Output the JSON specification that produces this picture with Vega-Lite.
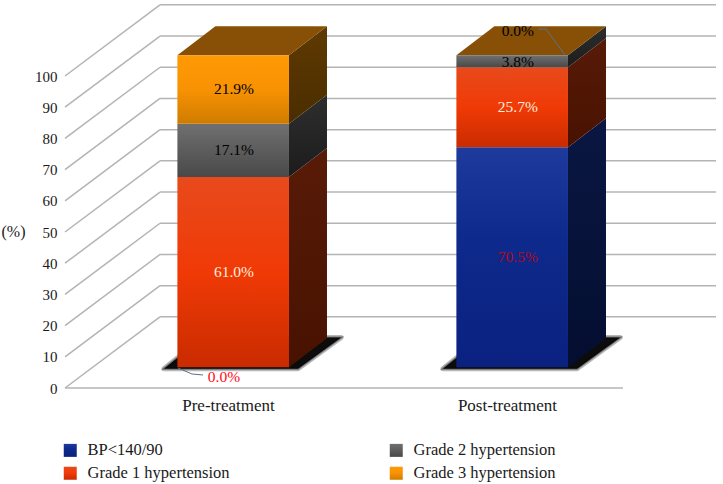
{
"$schema":"https://vega.github.io/schema/vega-lite/v6.json",
"width":651,"height":388,
"autosize":{"type":"none"},
"padding":{"left":65,"top":0,"right":7,"bottom":96},
"background":"white",
"config":{"view":{"stroke":null},"font":"Liberation Serif"},
"data":{"values":[
{"treatment":"Pre-treatment","series":"BP<140/90","value":0.0},
{"treatment":"Pre-treatment","series":"Grade 1 hypertension","value":61.0},
{"treatment":"Pre-treatment","series":"Grade 2 hypertension","value":17.1},
{"treatment":"Pre-treatment","series":"Grade 3 hypertension","value":21.9},
{"treatment":"Post-treatment","series":"BP<140/90","value":70.5},
{"treatment":"Post-treatment","series":"Grade 1 hypertension","value":25.7},
{"treatment":"Post-treatment","series":"Grade 2 hypertension","value":3.8},
{"treatment":"Post-treatment","series":"Grade 3 hypertension","value":0.0}
]},
"transform":[
{"stack":"value","groupby":["treatment"],"sort":[{"field":"series"}],"as":["y0","y1"]},
{"calculate":"datum.treatment=='Pre-treatment'?1:2","as":"cx"},
{"calculate":"datum.y0+6.63","as":"b0"},
{"calculate":"datum.y1+6.63","as":"b1"},
{"calculate":"format(datum.value,'.1f')+'%'","as":"label"}
],
"encoding":{
"x":{"field":"x","type":"quantitative","scale":{"domain":[0.4158,2.7491],"nice":false,"zero":false},
"axis":{"values":[1,2],"title":null,"domain":false,"ticks":false,"grid":false,"labelExpr":"datum.value<1.5?'Pre-treatment':'Post-treatment'","labelFontSize":17,"labelColor":"#1a1a1a","labelPadding":9,"labelFont":"Liberation Serif"}},
"y":{"field":"y","type":"quantitative","stack":null,"scale":{"domain":[0,124.36],"nice":false,"zero":false},
"axis":{"values":[0,10,20,30,40,50,60,70,80,90,100],"title":"(%)","titleAngle":0,"titleFontWeight":"normal","titleFontSize":16,"titleColor":"#1a1a1a","titleFont":"Liberation Serif","titleX":-52,"titleY":239,"titleAlign":"center","domain":false,"ticks":false,"grid":false,"labelFontSize":15,"labelColor":"#1a1a1a","labelPadding":8,"labelFont":"Liberation Serif"}}
},
"layer":[
{
"data":{"values":[{"tick":0},{"tick":10},{"tick":20},{"tick":30},{"tick":40},{"tick":50},{"tick":60},{"tick":70},{"tick":80},{"tick":90},{"tick":100}]},
"transform":[
{"calculate":"['diag','back','floor']","as":"kind"},
{"flatten":["kind"]},
{"filter":"datum.kind!='floor'||datum.tick==0"},
{"calculate":"datum.kind=='back'?0.7563:0.4158","as":"x"},
{"calculate":"datum.kind=='diag'?0.7563:(datum.kind=='back'?2.7491:2.4158)","as":"x2"},
{"calculate":"datum.kind=='back'?datum.tick+22.8:datum.tick","as":"y"},
{"calculate":"datum.kind=='floor'?0:datum.tick+22.8","as":"y2"}
],
"mark":{"type":"rule","color":"#b4b4b4","strokeWidth":1.5},
"encoding":{"x2":{"field":"x2"},"y2":{"field":"y2"}}
},
{
"transform":[
{"filter":"datum.series=='Grade 3 hypertension'"},
{"calculate":"[0,1,2,3]","as":"k"},
{"flatten":["k"]},
{"calculate":"datum.cx+[-0.2295,-0.0895,0.251,0.4055][datum.k]","as":"x"},
{"calculate":"[6.2,16.2,16.2,16.2][datum.k]","as":"y"},
{"calculate":"[6.2,6.2,6.2,16.2][datum.k]","as":"y2"}
],
"mark":{"type":"area","orient":"vertical","color":"#000000","opacity":0.28,"stroke":"#000000","strokeWidth":5,"strokeJoin":"round"},
"encoding":{"y2":{"field":"y2"},"detail":{"field":"treatment"}}
},
{
"transform":[
{"filter":"datum.series=='Grade 3 hypertension'"},
{"calculate":"[0,1,2,3]","as":"k"},
{"flatten":["k"]},
{"calculate":"datum.cx+[-0.2295,-0.0895,0.251,0.4055][datum.k]","as":"x"},
{"calculate":"[6.2,16.2,16.2,16.2][datum.k]","as":"y"},
{"calculate":"[6.2,6.2,6.2,16.2][datum.k]","as":"y2"}
],
"mark":{"type":"area","orient":"vertical","color":"#0c0c0c","stroke":"#000000","strokeOpacity":0.4,"strokeWidth":2},
"encoding":{"y2":{"field":"y2"},"detail":{"field":"treatment"}}
},
{
"transform":[
{"calculate":"[0,1]","as":"k"},
{"flatten":["k"]},
{"calculate":"datum.cx+0.2186+datum.k*0.1362","as":"x"},
{"calculate":"datum.b1+datum.k*9.3","as":"y"},
{"calculate":"datum.b0+datum.k*9.3","as":"y2"}
],
"mark":{"type":"area","orient":"vertical"},
"encoding":{"y2":{"field":"y2"},"detail":{"field":"treatment"},
"color":{"field":"series","type":"nominal","legend":null,"scale":{"domain":["BP<140/90","Grade 1 hypertension","Grade 2 hypertension","Grade 3 hypertension"],"range":[
{"expr":"{gradient:'linear',x1:0,y1:0,x2:0,y2:1,stops:[{offset:0,color:'#0a1742'},{offset:1,color:'#030e30'}]}"},
{"expr":"{gradient:'linear',x1:0,y1:0,x2:0,y2:1,stops:[{offset:0,color:'#581b08'},{offset:1,color:'#481200'}]}"},
{"expr":"{gradient:'linear',x1:0,y1:0,x2:0,y2:1,stops:[{offset:0,color:'#2e2e2e'},{offset:1,color:'#1c1c1c'}]}"},
{"expr":"{gradient:'linear',x1:0,y1:0,x2:0,y2:1,stops:[{offset:0,color:'#5f3a02'},{offset:1,color:'#4a2d00'}]}"}
]}}}
},
{
"transform":[
{"filter":"datum.series=='Grade 3 hypertension'"},
{"calculate":"[0,1,2,3]","as":"k"},
{"flatten":["k"]},
{"calculate":"datum.cx+[-0.1814,-0.0452,0.2186,0.3548][datum.k]","as":"x"},
{"calculate":"datum.b1+[0,9.3,9.3,9.3][datum.k]","as":"y"},
{"calculate":"datum.b1+[0,0,0,9.3][datum.k]","as":"y2"}
],
"mark":{"type":"area","orient":"vertical","color":"#875006"},
"encoding":{"y2":{"field":"y2"},"detail":{"field":"treatment"}}
},
{
"transform":[
{"calculate":"datum.cx-0.1814","as":"x"},
{"calculate":"datum.cx+0.2186","as":"x2"},
{"calculate":"datum.b1","as":"y"},
{"calculate":"datum.b0","as":"y2"}
],
"mark":{"type":"rect"},
"encoding":{"x2":{"field":"x2"},"y2":{"field":"y2"},
"color":{"field":"series","type":"nominal",
"legend":{"orient":"none","legendX":-3,"legendY":442,"title":null,"columns":2,"direction":"vertical","symbolType":"square","symbolSize":169,"symbolStrokeWidth":0,"labelFontSize":16.5,"labelColor":"#1a1a1a","labelFont":"Liberation Serif","labelOffset":9,"columnPadding":158,"rowPadding":6,"padding":0,"labelLimit":220},
"scale":{"domain":["BP<140/90","Grade 1 hypertension","Grade 2 hypertension","Grade 3 hypertension"],"range":[
{"expr":"{gradient:'linear',x1:0,y1:0,x2:0,y2:1,stops:[{offset:0,color:'#1e3a9c'},{offset:0.4,color:'#0e2a8c'},{offset:1,color:'#0a2180'}]}"},
{"expr":"{gradient:'linear',x1:0,y1:0,x2:0,y2:1,stops:[{offset:0,color:'#e84a1c'},{offset:0.5,color:'#f03a06'},{offset:1,color:'#c92b00'}]}"},
{"expr":"{gradient:'linear',x1:0,y1:0,x2:0,y2:1,stops:[{offset:0,color:'#707070'},{offset:1,color:'#494949'}]}"},
{"expr":"{gradient:'linear',x1:0,y1:0,x2:0,y2:1,stops:[{offset:0,color:'#ff9a05'},{offset:0.5,color:'#f89203'},{offset:1,color:'#cf7c00'}]}"}
]}}}
},
{
"transform":[
{"filter":"datum.value==0"},
{"calculate":"[0,1,2]","as":"k"},
{"flatten":["k"]},
{"calculate":"datum.cx==1?[0.8208,0.871,0.9104][datum.k]:[2.2079,2.1398,2.1111][datum.k]","as":"x"},
{"calculate":"datum.cx==1?[6.41,4.49,4.17][datum.k]:[106.7,115.06,115.06][datum.k]","as":"y"}
],
"mark":{"type":"line","color":"#5f7185","strokeWidth":1},
"encoding":{"detail":{"field":"treatment"},"order":{"field":"k"}}
},
{
"transform":[
{"calculate":"datum.value==0?(datum.cx==1?0.9857:2.039):(datum.cx==1?1.0215:2.039)","as":"x"},
{"calculate":"datum.value==0?(datum.cx==1?3.5:114.4):(datum.value==3.8?104.5:(datum.y0+datum.y1)/2+6.63)","as":"y"}
],
"mark":{"type":"text","fontSize":15.5,"font":"Liberation Serif","align":"center","baseline":"middle"},
"encoding":{"text":{"field":"label"},
"color":{"condition":[
{"test":"datum.value==0&&datum.cx==1","value":"#ff0a14"},
{"test":"datum.value==70.5","value":"#b00a1a"},
{"test":"datum.series=='Grade 1 hypertension'","value":"#ffeedd"}
],"value":"#000000"}}
}
],
"resolve":{"scale":{"color":"independent"}}
}
